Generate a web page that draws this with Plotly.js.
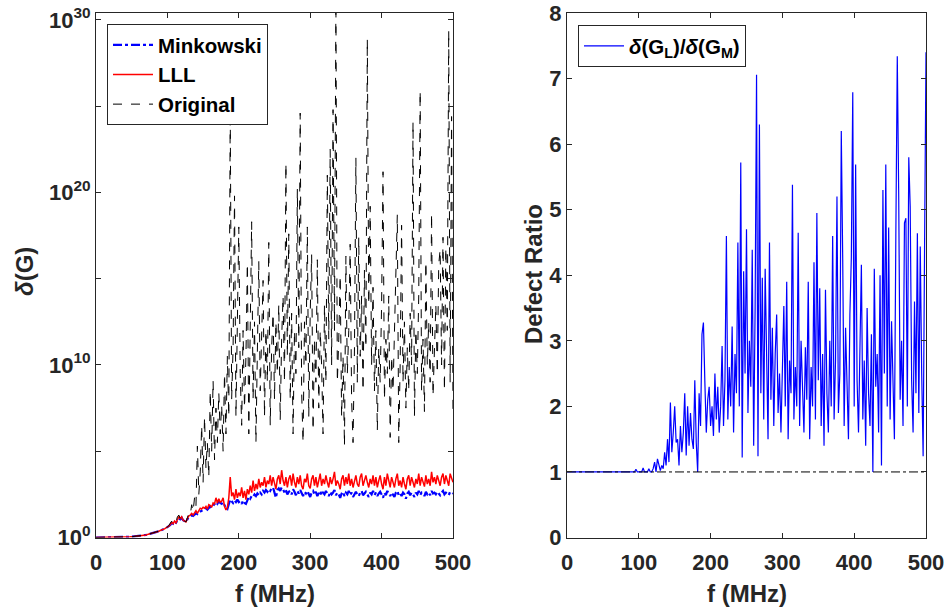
<!DOCTYPE html>
<html>
<head>
<meta charset="utf-8">
<script src="https://cdn.plot.ly/plotly-3.0.1.min.js"></script>
<style>html,body{margin:0;padding:0;background:#fff;}#chart{width:947px;height:608px;}</style>
</head>
<body>
<div id="chart"></div>
<script>
// Frequency grid (MHz)
const freqMHz = [
0,2,4,6,8,10,12,14,16,18,20,22,24,26,28,30,32,34,36,38,
40,42,44,46,48,50,52,54,56,58,60,62,64,66,68,70,72,74,76,78,
80,82,84,86,88,90,92,94,96,98,100,102,104,106,108,110,112,114,116,118,
120,122,124,126,128,130,132,134,136,138,140,142,144,146,148,150,152,154,156,158,
160,162,164,166,168,170,172,174,176,178,180,182,184,186,188,190,192,194,196,198,
200,202,204,206,208,210,212,214,216,218,220,222,224,226,228,230,232,234,236,238,
240,242,244,246,248,250,252,254,256,258,260,262,264,266,268,270,272,274,276,278,
280,282,284,286,288,290,292,294,296,298,300,302,304,306,308,310,312,314,316,318,
320,322,324,326,328,330,332,334,336,338,340,342,344,346,348,350,352,354,356,358,
360,362,364,366,368,370,372,374,376,378,380,382,384,386,388,390,392,394,396,398,
400,402,404,406,408,410,412,414,416,418,420,422,424,426,428,430,432,434,436,438,
440,442,444,446,448,450,452,454,456,458,460,462,464,466,468,470,472,474,476,478,
480,482,484,486,488,490,492,494,496,498,500];

// delta(G) read as decades (log10) from the log axis
const minkowskiLog10 = [
0,0,0,0,0,0,0,0,0,0,
.002,.003,.004,.005,.006,.008,.01,.012,.015,.018,
.022,.026,.03,.035,.04,.046,.053,.06,.068,.077,
.087,.1,.11,.12,.135,.15,.17,.19,.21,.23,
.26,.28,.3,.33,.36,.4,.43,.47,.5,.55,
.6,.65,.72,.85,.8,.9,.85,1.0,1.1,1.05,
1.15,1.0,.95,.9,1.05,1.2,1.25,1.3,1.25,1.35,
1.4,1.35,1.45,1.5,1.55,1.6,1.65,1.7,1.62,1.75,
1.8,1.72,1.85,1.9,2.05,1.95,2.1,2.0,1.95,2.05,
1.85,1.7,1.65,1.9,2.2,2.1,2.0,2.15,2.05,2.2,
2.05,2.1,1.95,2.15,2.0,1.95,2.2,2.35,2.25,2.4,
2.35,2.5,2.4,2.55,2.45,2.6,2.5,2.7,2.6,2.75,
2.65,2.8,2.7,2.85,2.9,2.6,2.3,2.75,2.85,2.7,
2.9,2.8,2.6,2.75,2.5,2.65,2.7,2.5,2.8,2.65,
2.45,2.7,2.55,2.75,2.6,2.4,2.65,2.55,2.7,2.5,
2.35,2.6,2.7,2.5,2.65,2.4,2.55,2.7,2.45,2.6,
2.5,2.7,2.55,2.4,2.65,2.5,2.6,2.75,2.45,2.6,
2.5,2.3,2.55,2.65,2.4,2.6,2.5,2.7,2.45,2.6,
2.35,2.55,2.65,2.5,2.4,2.6,2.7,2.45,2.55,2.65,
2.5,2.35,2.6,2.5,2.7,2.45,2.6,2.4,2.55,2.65,
2.5,2.3,2.6,2.45,2.7,2.55,2.4,2.6,2.5,2.35,
2.6,2.7,2.45,2.55,2.4,2.6,2.5,2.25,2.55,2.65,
2.45,2.6,2.5,2.35,2.6,2.5,2.7,2.45,2.6,2.55,
2.4,2.65,2.5,2.6,2.45,2.7,2.55,2.6,2.5,2.65,
2.55,2.45,2.6,2.7,2.5,2.6,2.55,2.45,2.65,2.6,
2.55];

const lllLog10 = [
0,0,0,0,0,0,0,0,0,0,
.002,.003,.004,.005,.006,.008,.01,.012,.015,.018,
.022,.026,.03,.035,.04,.046,.053,.06,.068,.077,
.087,.1,.11,.12,.135,.15,.17,.19,.21,.23,
.26,.29,.3,.34,.36,.41,.43,.48,.5,.56,
.6,.66,.75,.88,.8,.95,.85,1.05,1.2,1.1,
1.2,1.0,.95,.9,1.1,1.25,1.3,1.4,1.3,1.45,
1.55,1.4,1.6,1.7,1.65,1.75,1.7,1.8,1.65,1.9,
1.85,1.75,2.0,1.95,2.3,2.0,2.25,2.05,2.1,2.3,
1.8,1.6,1.75,2.3,3.5,2.4,2.6,2.2,2.8,2.3,
2.6,2.4,2.9,2.3,2.7,2.2,2.8,2.5,3.0,2.6,
3.3,2.7,3.1,2.8,3.4,2.9,3.2,3.0,3.5,2.9,
3.3,3.1,3.6,3.0,3.5,3.2,2.8,3.4,3.6,3.1,
3.9,3.3,3.0,3.5,2.9,3.4,3.6,3.0,3.7,3.2,
2.9,3.5,3.1,3.6,3.0,2.8,3.4,3.2,3.7,3.0,
2.85,3.4,3.6,3.0,3.5,2.9,3.3,3.7,3.0,3.4,
3.1,3.6,3.2,2.9,3.5,3.1,3.4,3.8,3.0,3.3,
3.1,2.8,3.4,3.6,3.0,3.5,3.1,3.7,3.0,3.4,
2.9,3.3,3.6,3.1,2.95,3.5,3.7,3.0,3.3,3.6,
3.2,2.9,3.4,3.1,3.6,3.0,3.5,2.9,3.3,3.6,
3.1,2.8,3.5,3.0,3.7,3.2,2.9,3.5,3.1,2.9,
3.4,3.7,3.0,3.3,2.9,3.5,3.1,2.8,3.4,3.6,
3.0,3.5,3.2,2.9,3.4,3.1,3.7,3.0,3.5,3.2,
2.95,3.6,3.1,3.4,3.0,3.8,3.2,3.5,3.1,3.6,
3.3,3.0,3.5,3.7,3.1,3.6,3.3,3.0,3.7,3.4,
3.2];

const originalLog10 = [
0,0,0,0,0,0,0,0,0,0,
.002,.003,.004,.005,.006,.008,.01,.012,.015,.018,
.022,.026,.03,.035,.04,.046,.053,.06,.068,.077,
.087,.1,.11,.12,.135,.15,.17,.19,.21,.23,
.26,.3,.31,.35,.37,.42,.45,.5,.52,.58,
.6,.7,.8,.95,.85,1.0,.9,1.2,1.3,1.1,
1.25,1.0,.95,.9,1.15,1.4,1.3,1.9,1.5,2.3,
1.8,5.3,2.5,3.8,6.5,3.2,7.0,4.0,5.5,3.5,
8.5,5.0,9.1,4.5,7.5,5.5,8.4,6.0,7.7,5.0,
9.5,6.0,10.5,7.0,24.8,8.0,11.0,19.8,7.0,12.5,
18.0,9.5,6.5,12.0,7.5,10.5,15.9,6.0,11.0,18.3,
8.0,12.5,5.5,10.0,16.0,8.5,11.5,14.9,7.0,12.0,
9.0,17.1,6.5,11.0,13.0,8.0,12.5,9.5,13.5,6.8,
11.5,14.0,9.0,21.7,10.5,17.6,8.0,13.0,6.0,12.0,
9.5,20.2,11.0,24.6,8.5,5.5,12.5,10.0,18.0,7.0,
13.0,16.4,6.2,11.5,9.0,16.1,7.5,12.0,10.0,6.0,
13.5,9.0,21.0,11.5,22.5,10.0,24.8,12.0,31.0,9.0,
11.5,15.2,7.0,10.5,5.3,16.3,9.5,12.0,17.0,8.0,
5.5,11.0,22.0,9.0,17.4,10.5,14.0,8.5,15.5,11.0,
28.9,13.5,19.2,10.0,14.5,8.5,12.0,6.2,11.0,9.0,
13.5,21.2,8.0,11.5,9.5,14.0,5.8,10.5,8.5,12.0,
16.5,18.7,5.5,10.0,18.1,9.0,12.5,7.5,11.0,8.5,
13.0,10.0,24.1,7.0,12.0,9.5,14.0,25.9,8.5,11.5,
7.3,16.0,10.0,12.5,9.0,18.8,8.2,11.0,13.5,9.5,
15.8,16.7,10.0,17.4,8.5,16.8,12.0,29.4,9.0,24.4,
7.4];

// Defect ratio delta(G_L)/delta(G_M)
const defectRatio = [
1,1,1,1,1,1,1,1,1,1,
1,1,1,1,1,1,1,1,1,1,
1,1,1,1,1,1,1,1,1,1,
1,1,1,1,1,1,1,1,1,1,
1,1,1,1,1,1,1,1,1.04,1,
1,1,1,1.06,1,1,1,1.05,1,1,
1.05,1.15,1.0,1.2,1.08,1.02,1.1,1.05,1.3,1.1,
1.5,1.15,2.06,1.3,1.6,2.0,1.45,1.5,1.1,1.7,
1.3,1.6,2.2,1.25,2.0,1.4,1.9,1.5,1.35,2.4,
1.45,1.0,2.2,1.7,3.1,3.28,2.37,1.6,2.1,2.3,
1.7,2.0,1.55,2.5,1.8,2.3,1.6,2.0,2.92,1.7,
2.4,4.6,1.8,2.6,2.0,3.22,1.6,2.8,2.2,4.5,
2.0,5.72,1.22,4.06,2.5,4.7,1.9,3.0,2.3,4.39,
1.4,3.5,7.06,1.24,6.3,2.2,3.96,1.8,4.1,2.6,
1.5,4.5,2.1,3.2,1.7,2.8,3.4,1.9,2.5,1.6,
2.9,3.53,2.0,3.9,1.5,2.7,2.2,5.38,1.8,2.6,
2.0,4.65,1.7,3.0,2.3,1.6,2.9,2.1,3.9,1.5,
2.6,2.0,4.2,1.8,4.95,2.4,3.8,1.7,2.8,1.4,
3.78,2.2,1.6,3.0,2.0,4.6,1.8,2.7,5.2,1.9,
2.5,6.2,4.25,1.7,3.2,2.2,1.5,3.4,4.27,6.79,
2.0,5.69,2.4,1.6,3.0,4.16,1.8,2.7,1.4,3.5,
2.2,1.7,3.1,1.0,4.1,2.3,2.8,1.6,4.0,1.1,
5.3,2.5,5.69,2.0,4.73,1.8,3.3,2.2,1.5,4.6,
7.34,5.2,2.1,3.0,1.7,4.8,4.87,2.0,5.8,5.05,
2.4,1.6,3.6,2.2,4.64,1.9,4.44,2.5,1.24,4.4,
7.4];

const refLineX = [0, 500];
const refLineY = [1, 1];

const xTickVals = [0, 100, 200, 300, 400, 500];
const logTickVals = [1, 1e10, 1e20, 1e30];
const logTickText = ['10<sup>0</sup>', '10<sup>10</sup>', '10<sup>20</sup>', '10<sup>30</sup>'];
const logMinorTickVals = [1e5, 1e15, 1e25];
const ratioTickVals = [0, 1, 2, 3, 4, 5, 6, 7, 8];

const pow10 = a => a.map(v => Math.pow(10, v));

const FONT = 'Liberation Sans, Arial, Helvetica, sans-serif';
const AX = '#262626';

const traces = [
  {x: freqMHz, y: pow10(minkowskiLog10), name: 'Minkowski', type: 'scatter', mode: 'lines',
   line: {color: '#0000ff', width: 2.2, dash: 'dashdot'}, xaxis: 'x', yaxis: 'y', legend: 'legend'},
  {x: freqMHz, y: pow10(lllLog10), name: 'LLL', type: 'scatter', mode: 'lines',
   line: {color: '#ff0000', width: 1.5}, xaxis: 'x', yaxis: 'y', legend: 'legend'},
  {x: freqMHz, y: pow10(originalLog10), name: 'Original', type: 'scatter', mode: 'lines',
   line: {color: '#000000', width: 1, dash: 'dash'}, xaxis: 'x', yaxis: 'y', legend: 'legend'},
  {x: freqMHz, y: defectRatio, name: '<i>δ</i>(G<sub>L</sub>)/<i>δ</i>(G<sub>M</sub>)', type: 'scatter', mode: 'lines',
   line: {color: '#0000ff', width: 1.2}, xaxis: 'x2', yaxis: 'y2', legend: 'legend2'},
  {x: refLineX, y: refLineY, type: 'scatter', mode: 'lines', showlegend: false,
   line: {color: '#000000', width: 1, dash: 'dashdot'}, xaxis: 'x2', yaxis: 'y2', hoverinfo: 'skip'}
];

const tickFont = {family: FONT, size: 22, weight: 'bold', color: AX};
const titleFont = {family: FONT, size: 24, weight: 'bold', color: AX};
const axisCommon = {showline: true, linecolor: AX, linewidth: 1, mirror: 'ticks', ticks: 'inside',
  ticklen: 5, tickcolor: AX, showgrid: false, zeroline: false, tickfont: tickFont, automargin: false};

const yDomain = [1 - 537.5/608, 1 - 13/608];

const legendFont = {family: FONT, size: 20.5, weight: 'bold', color: '#000'};

const layout = {
  width: 947, height: 608,
  margin: {l: 0, r: 0, t: 0, b: 0},
  paper_bgcolor: '#ffffff', plot_bgcolor: '#ffffff',
  font: {family: FONT, color: AX},
  xaxis: Object.assign({}, axisCommon, {domain: [96/947, 453/947], range: [0, 500], tickvals: xTickVals,
    anchor: 'y', ticklabelstandoff: 5}),
  yaxis: Object.assign({}, axisCommon, {domain: yDomain, type: 'log', range: [0, 30.4],
    tickvals: logTickVals, ticktext: logTickText, anchor: 'x',
    minor: {tickmode: 'array', tickvals: logMinorTickVals, ticks: 'inside', ticklen: 5, tickcolor: AX, showgrid: false}}),
  xaxis2: Object.assign({}, axisCommon, {domain: [567/947, 926/947], range: [0, 500], tickvals: xTickVals,
    anchor: 'y2', ticklabelstandoff: 5}),
  yaxis2: Object.assign({}, axisCommon, {domain: yDomain, range: [0, 8], tickvals: ratioTickVals, anchor: 'x2'}),
  annotations: [
    {text: 'f (MHz)', xref: 'paper', yref: 'paper', x: 274.5/947, y: 1 - 593/608, xanchor: 'center', yanchor: 'middle',
     showarrow: false, font: titleFont},
    {text: 'f (MHz)', xref: 'paper', yref: 'paper', x: 746.5/947, y: 1 - 593/608, xanchor: 'center', yanchor: 'middle',
     showarrow: false, font: titleFont},
    {text: '<i>δ</i>(G)', xref: 'paper', yref: 'paper', x: 24/947, y: 1 - 272/608, xanchor: 'center', yanchor: 'middle',
     textangle: -90, showarrow: false, font: titleFont},
    {text: 'Defect Ratio', xref: 'paper', yref: 'paper', x: 534/947, y: 1 - 274/608, xanchor: 'center', yanchor: 'middle',
     textangle: -90, showarrow: false, font: titleFont}
  ],
  legend: {x: 107/947, y: 1 - 24/608, xanchor: 'left', yanchor: 'top', bgcolor: '#ffffff',
    bordercolor: AX, borderwidth: 1, font: legendFont, tracegroupgap: 0, itemwidth: 40},
  legend2: {x: 578/947, y: 1 - 25/608, xanchor: 'left', yanchor: 'top', bgcolor: '#ffffff',
    bordercolor: AX, borderwidth: 1, font: legendFont, itemwidth: 40},
  showlegend: true
};

Plotly.newPlot('chart', traces, layout, {staticPlot: true, displayModeBar: false});
</script>
</body>
</html>
